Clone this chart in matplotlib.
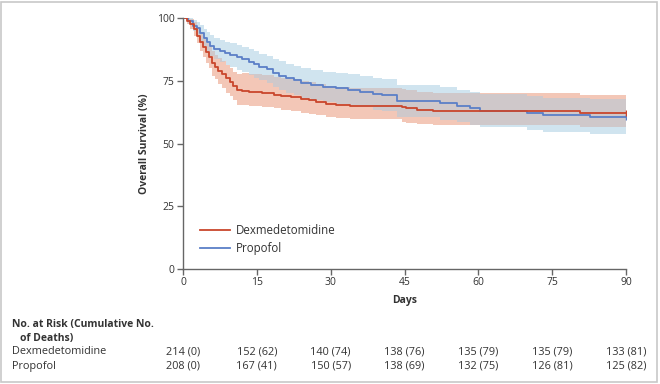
import numpy as np
import matplotlib
matplotlib.use("Agg")
import matplotlib.pyplot as plt
from matplotlib.patches import Rectangle

# ---------------- data ----------------
dex_t = [0, 0.8, 1.5, 2.2, 2.8, 3.4, 4.0, 4.6, 5.2, 5.8, 6.5, 7.2, 8.0, 8.8, 9.5, 10.2, 11.0, 12.0,
         13.5, 16.0, 18.5, 20.0, 22.0, 24.0, 25.5, 27.0, 29.0, 31.0, 34.0, 44.5, 45.4, 47.5, 50.8, 80.6]
dex_s = [100, 99, 97.5, 95.5, 93, 90.5, 88.5, 86.5, 84.5, 82, 80.5, 79, 77.5, 76, 74.5, 73, 71.5, 71,
         70.6, 70.2, 69.5, 69, 68.6, 67.8, 67.2, 66.5, 65.8, 65.3, 64.9, 64.4, 64.0, 63.3, 62.9, 62.3]
dex_lo = [100, 97.5, 95.5, 93, 90, 87, 84.5, 82, 80, 77, 75.5, 73.8, 72, 70.3, 68.8, 67.2, 65.5, 65.2,
          65.0, 64.7, 64.0, 63.5, 63.0, 62.3, 61.8, 61.3, 60.6, 60.1, 59.6, 58.7, 58.2, 57.6, 57.3, 56.6]
dex_hi = [100, 100, 99.5, 98.3, 96, 94, 92.5, 90.7, 89, 86.7, 85.3, 84, 82.7, 81.3, 80, 78.6, 77.8, 78,
          77.6, 77.2, 76.6, 76.1, 75.7, 75.0, 74.4, 73.8, 73.1, 72.6, 72.2, 71.6, 71.2, 70.5, 70.1, 69.3]

pro_t = [0, 1.0, 2.0, 2.8, 3.5, 4.2, 4.8, 5.5, 6.3, 7.5, 8.5, 9.5, 11.0, 12.0, 13.5, 14.5, 15.5, 17.0,
         18.3, 19.5, 21.0, 22.5, 24.0, 26.0, 28.5, 31.0, 33.5, 36.0, 38.7, 40.5, 43.4, 52.2, 55.6, 58.3,
         60.3, 69.8, 73.1, 82.7]
pro_s = [100, 99, 97, 96, 94, 92, 90.5, 89, 87.8, 87, 86, 85.2, 84.3, 83.5, 82.5, 81.5, 80.5, 79.5,
         78, 77, 76, 75.2, 74, 73.2, 72.6, 72, 71.4, 70.6, 69.8, 69.3, 67, 66, 65, 64,
         63, 62.2, 61.3, 60.6]
pro_lo = [100, 97.5, 94.8, 93.3, 91, 88.5, 86.6, 85, 83.5, 82.5, 81.3, 80.3, 79.3, 78.4, 77.3, 76.2, 75.1, 74,
          72.4, 71.3, 70.2, 69.3, 68.1, 67.2, 66.5, 65.9, 65.2, 64.4, 63.5, 63, 60.6, 59.5, 58.5, 57.4,
          56.4, 55.5, 54.6, 53.9]
pro_hi = [100, 100, 99.2, 98.6, 97.2, 95.6, 94.4, 93.1, 92.1, 91.4, 90.6, 89.9, 89.1, 88.4, 87.5, 86.7, 85.8, 84.9,
          83.6, 82.7, 81.7, 81, 79.9, 79.2, 78.6, 78.1, 77.5, 76.8, 76, 75.5, 73.4, 72.5, 71.5, 70.6,
          69.7, 69, 68.2, 67.6]

end_day = 90
risk_days = [0, 15, 30, 45, 60, 75, 90]
dex_risk = ["214 (0)", "152 (62)", "140 (74)", "138 (76)", "135 (79)", "135 (79)", "133 (81)"]
pro_risk = ["208 (0)", "167 (41)", "150 (57)", "138 (69)", "132 (75)", "126 (81)", "125 (82)"]
group_names = ["Dexmedetomidine", "Propofol"]

# ---------------- style ----------------
plt.rcParams['font.family'] = ['Open Sans', 'DejaVu Sans']
RED = '#c9462c'
BLUE = '#5b7fc7'
RED_BAND = '#f3c7b7'
BLUE_BAND = '#d0e4ef'
GRAY_BAND = '#cfc8ca'
TXT = '#333333'
FS = 7.5

fig = plt.figure(figsize=(6.6, 3.84), dpi=100)
ax = fig.add_axes([183/660, 1 - 269/384, (626-183)/660, (269-18)/384])


def step_eval(t, v, grid):
    t = np.asarray(t); v = np.asarray(v)
    idx = np.searchsorted(t, grid, side='right') - 1
    return v[idx]

grid = np.unique(np.concatenate([dex_t, pro_t, [end_day]]))
dlo = step_eval(dex_t, dex_lo, grid); dhi = step_eval(dex_t, dex_hi, grid)
plo = step_eval(pro_t, pro_lo, grid); phi = step_eval(pro_t, pro_hi, grid)

ax.fill_between(grid, plo, phi, step='post', color=BLUE_BAND, lw=0)
ax.fill_between(grid, dlo, dhi, step='post', color=RED_BAND, lw=0)
olo = np.maximum(dlo, plo); ohi = np.minimum(dhi, phi)
ax.fill_between(grid, olo, ohi, where=ohi > olo, step='post', color=GRAY_BAND, lw=0, interpolate=False)

for t, s, c, lab in [(pro_t, pro_s, BLUE, group_names[1]), (dex_t, dex_s, RED, group_names[0])]:
    tt = list(t) + [end_day]
    ss = list(s) + [s[-1]]
    ax.step(tt, ss, where='post', color=c, lw=1.3, label=lab)
    ax.plot([end_day], [s[-1]], marker='|', color=c, ms=5, mew=1.0)

ax.set_xlim(0, 90)
ax.set_ylim(0, 100)
ax.set_xticks(risk_days)
ax.set_yticks([0, 25, 50, 75, 100])
for sp in ['top', 'right']:
    ax.spines[sp].set_visible(False)
for sp in ['left', 'bottom']:
    ax.spines[sp].set_color('#666666')
    ax.spines[sp].set_linewidth(1.0)
ax.tick_params(axis='both', colors='#666666', labelcolor=TXT, labelsize=FS, length=4, width=1.0, pad=2)
ax.set_ylabel('Overall Survival (%)', fontsize=FS, fontweight='bold', color=TXT, labelpad=5)
ax.set_xlabel('Days', fontsize=FS, fontweight='bold', color=TXT, labelpad=5)

# legend
h, l = ax.get_legend_handles_labels()
order = [1, 0]
ax.legend([h[i] for i in order], [l[i] for i in order], loc='lower left', bbox_to_anchor=(0.015, 0.015),
          frameon=False, fontsize=8.3, handlelength=2.6, labelspacing=0.45, handletextpad=0.5,
          labelcolor=TXT)

# risk table
fig.text(12/660, 1 - 325/384, 'No. at Risk (Cumulative No.', fontsize=FS, fontweight='bold', color=TXT, va='center')
fig.text(20/660, 1 - 338/384, 'of Deaths)', fontsize=FS, fontweight='bold', color=TXT, va='center')
for row_y, name, vals in [(352, group_names[0], dex_risk), (366, group_names[1], pro_risk)]:
    fig.text(12/660, 1 - row_y/384, name, fontsize=7.8, color=TXT, va='center')
    for d, v in zip(risk_days, vals):
        xd = ax.transData.transform((d, 0))[0]
        xf = fig.transFigure.inverted().transform((xd, 0))[0]
        fig.text(xf, 1 - row_y/384, v, fontsize=7.8, color=TXT, va='center', ha='center')

# outer frame
fig.patches.append(Rectangle((0.002, 0.004), 0.994, 0.992, transform=fig.transFigure,
                             fill=False, edgecolor='#c8c8c8', lw=1.2))

fig.savefig('out.png', dpi=100)
